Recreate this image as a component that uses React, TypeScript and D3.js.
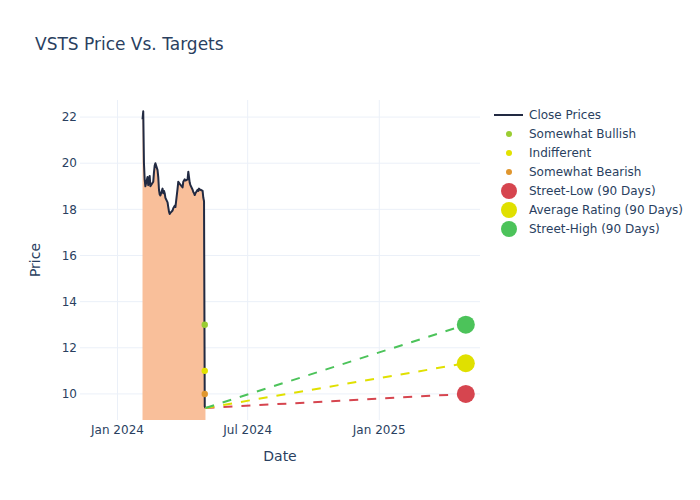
import React from 'react';
import * as d3 from 'd3';

// daily closes
const closeDates = [
  '2024-02-05', '2024-02-06', '2024-02-07', '2024-02-08', '2024-02-09',
  '2024-02-12', '2024-02-13', '2024-02-14', '2024-02-15', '2024-02-16',
  '2024-02-20', '2024-02-21', '2024-02-22', '2024-02-23',
  '2024-02-26', '2024-02-27', '2024-02-28', '2024-02-29', '2024-03-01',
  '2024-03-04', '2024-03-05', '2024-03-06', '2024-03-07', '2024-03-08',
  '2024-03-11', '2024-03-12', '2024-03-13', '2024-03-14', '2024-03-15',
  '2024-03-18', '2024-03-19', '2024-03-20', '2024-03-21', '2024-03-22',
  '2024-03-25', '2024-03-26', '2024-03-27', '2024-03-28',
  '2024-04-01', '2024-04-02', '2024-04-03', '2024-04-04', '2024-04-05',
  '2024-04-08', '2024-04-09', '2024-04-10', '2024-04-11', '2024-04-12',
  '2024-04-15', '2024-04-16', '2024-04-17', '2024-04-18', '2024-04-19',
  '2024-04-22', '2024-04-23', '2024-04-24', '2024-04-25', '2024-04-26',
  '2024-04-29', '2024-04-30', '2024-05-01', '2024-05-02', '2024-05-03',
];
const closePrices = [
  21.9, 22.25, 20.0, 19.3, 19.0,
  19.4, 19.05, 19.2, 19.45, 19.0,
  19.2, 19.6, 19.9, 20.0,
  19.7, 19.4, 18.85, 18.65, 18.6,
  18.9, 18.7, 18.8, 18.7, 18.5,
  18.3, 18.1, 17.9, 17.8, 17.85,
  17.95, 18.05, 18.1, 18.15, 18.1,
  18.9, 19.2, 19.15, 19.1,
  18.95, 19.2, 19.25, 19.3, 19.25,
  19.3, 19.63, 19.4, 19.15, 19.05,
  18.85, 18.75, 18.7, 18.62, 18.7,
  18.85, 18.8, 18.9, 18.85, 18.85,
  18.8, 18.5, 18.35, 9.45, 9.39,
];

const ratingNames = ['Somewhat Bullish', 'Indifferent', 'Somewhat Bearish'];
const ratingDates = ['2024-05-02', '2024-05-02', '2024-05-02'];
const ratingPrices = [13, 11, 10];
const ratingColors = ['#9acd32', '#e2e200', '#e0962e'];

const targetNames = ['Street-Low (90 Days)', 'Average Rating (90 Days)', 'Street-High (90 Days)'];
const targetDate = '2025-05-02';
const targetPrices = [10, 11.33, 13];
const targetColors = ['#d6454f', '#e0e000', '#4cc35a'];

const yTicks = [10, 12, 14, 16, 18, 20, 22];
const xTicks = ['2024-01-01', '2024-07-01', '2025-01-01'];
const xTickLabels = ['Jan 2024', 'Jul 2024', 'Jan 2025'];

const FONT = '"DejaVu Sans", "Open Sans", Verdana, sans-serif';
const TEXT = '#2a3f5f';
const GRID = '#ebf0f8';

const parse = d3.utcParse('%Y-%m-%d');

export default function App() {
  const M = { left: 80, right: 480, top: 100, bottom: 420 };

  const x = d3.scaleUtc()
    .domain([new Date(Date.UTC(2023, 10, 9, 14)), new Date(Date.UTC(2025, 4, 21, 20))])
    .range([M.left, M.right]);
  const y = d3.scaleLinear().domain([8.87, 22.74]).range([M.bottom, M.top]);

  const pts = closeDates.map((d, i) => ({ date: parse(d) as Date, v: closePrices[i] }));
  const last = pts[pts.length - 1];

  const line = d3.line<{ date: Date; v: number }>().x(d => x(d.date)).y(d => y(d.v));
  const area = d3.area<{ date: Date; v: number }>().x(d => x(d.date)).y0(M.bottom).y1(d => y(d.v));

  const tDate = parse(targetDate) as Date;

  const legendItems = [
    { name: 'Close Prices', kind: 'line', color: '#222a42' },
    ...ratingNames.map((n, i) => ({ name: n, kind: 'small', color: ratingColors[i] })),
    ...targetNames.map((n, i) => ({ name: n, kind: 'big', color: targetColors[i] })),
  ];

  return (
    <svg width={700} height={500} style={{ position: 'absolute', left: 0, top: 0, background: '#fff' }}
      fontFamily={FONT}>
      <defs>
        <clipPath id="plot-clip">
          <rect x={M.left} y={M.top} width={M.right - M.left} height={M.bottom - M.top} />
        </clipPath>
      </defs>

      <text x={35} y={50} fontSize={17} fill={TEXT}>VSTS Price Vs. Targets</text>

      {/* grid */}
      {yTicks.map(t => (
        <line key={'gy' + t} x1={M.left} x2={M.right} y1={y(t)} y2={y(t)} stroke={GRID} strokeWidth={1} />
      ))}
      {xTicks.map(t => (
        <line key={'gx' + t} x1={x(parse(t) as Date)} x2={x(parse(t) as Date)} y1={M.top} y2={M.bottom}
          stroke={GRID} strokeWidth={1} />
      ))}

      {/* ticks */}
      {yTicks.map(t => (
        <text key={'ty' + t} x={77} y={y(t)} dy="0.35em" textAnchor="end" fontSize={12} fill={TEXT}>{t}</text>
      ))}
      {xTicks.map((t, i) => (
        <text key={'tx' + t} x={x(parse(t) as Date)} y={434} textAnchor="middle" fontSize={12} fill={TEXT}>
          {xTickLabels[i]}
        </text>
      ))}

      <text x={280} y={461} textAnchor="middle" fontSize={14} fill={TEXT}>Date</text>
      <text transform="translate(40,260) rotate(-90)" textAnchor="middle" fontSize={14} fill={TEXT}>Price</text>

      <g clipPath="url(#plot-clip)">
        <path d={area(pts) ?? ''} fill="#f9bf9a" />
        <path d={line(pts) ?? ''} fill="none" stroke="#222a42" strokeWidth={2} strokeLinejoin="round" />

        {targetPrices.map((p, i) => (
          <line key={'dl' + i} x1={x(last.date)} y1={y(last.v)} x2={x(tDate)} y2={y(p)}
            stroke={targetColors[i]} strokeWidth={2} strokeDasharray="9,9" />
        ))}

        {ratingPrices.map((p, i) => (
          <circle key={'rm' + i} cx={x(parse(ratingDates[i]) as Date)} cy={y(p)} r={3.2} fill={ratingColors[i]} />
        ))}
      </g>

      {targetPrices.map((p, i) => (
        <circle key={'tm' + i} cx={x(tDate)} cy={y(p)} r={9} fill={targetColors[i]} />
      ))}

      {/* legend */}
      {legendItems.map((it, i) => {
        const ly = 115 + i * 19;
        return (
          <g key={it.name}>
            {it.kind === 'line' && <line x1={494} x2={523} y1={ly} y2={ly} stroke={it.color} strokeWidth={2} />}
            {it.kind === 'small' && <circle cx={509} cy={ly} r={3} fill={it.color} />}
            {it.kind === 'big' && <circle cx={509} cy={ly} r={8} fill={it.color} />}
            <text x={529} y={ly} dy="0.35em" fontSize={12} fill={TEXT}>{it.name}</text>
          </g>
        );
      })}
    </svg>
  );
}
